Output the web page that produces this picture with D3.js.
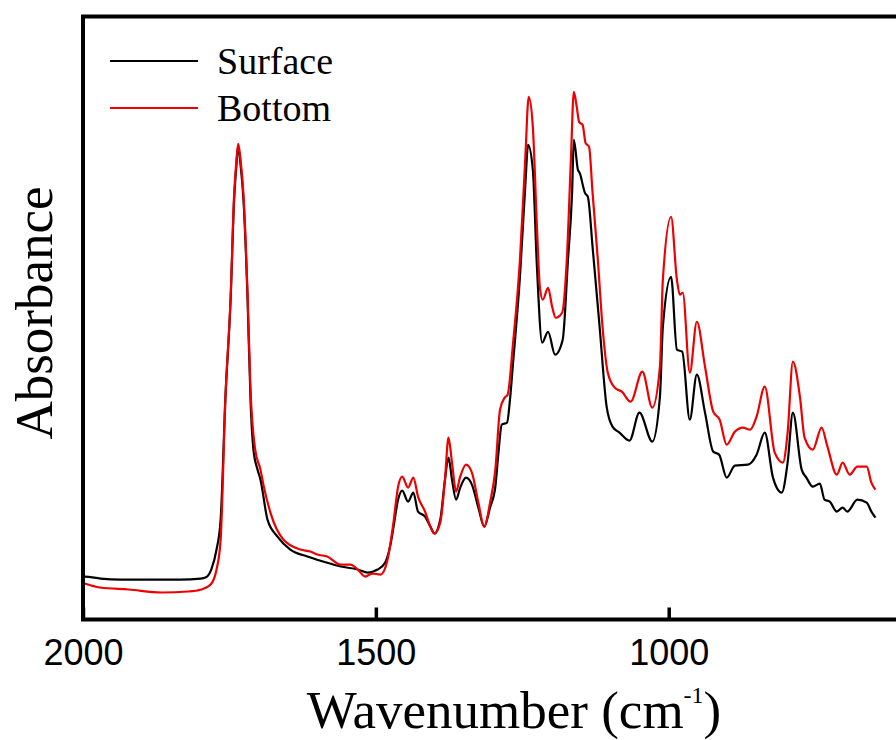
<!DOCTYPE html>
<html>
<head>
<meta charset="utf-8">
<script src="https://cdn.jsdelivr.net/npm/d3@7"></script>
<style>
    body { margin: 0; background: #fff; }
    svg { display: block; }
</style>
</head>
<body>
<div id="chart-area"></div>
<script>
// FTIR spectra, [wavenumber (cm-1), absorbance]
var surfaceSpectrum = [
    [2002, 0.042], [1997, 0.043], [1970, 0.041], [1936, 0.040], [1902, 0.040],
    [1868, 0.040], [1834, 0.040], [1799, 0.041], [1791, 0.042], [1781, 0.050],
    [1772, 0.070], [1765, 0.100], [1757, 0.220], [1748, 0.320], [1742, 0.420],
    [1738, 0.455], [1735, 0.474], [1731, 0.455], [1726, 0.420], [1719, 0.320],
    [1714, 0.220], [1709, 0.170], [1702, 0.150], [1697, 0.140], [1685, 0.100],
    [1668, 0.083], [1646, 0.070], [1617, 0.063], [1590, 0.058], [1560, 0.053],
    [1531, 0.050], [1521, 0.048], [1514, 0.047], [1497, 0.050], [1484, 0.057],
    [1475, 0.075], [1470, 0.092], [1462, 0.120], [1455, 0.129], [1445, 0.118],
    [1436, 0.127], [1428, 0.108], [1416, 0.103], [1407, 0.093], [1400, 0.086],
    [1390, 0.100], [1382, 0.140], [1376, 0.162], [1370, 0.140], [1363, 0.120],
    [1356, 0.132], [1346, 0.142], [1336, 0.135], [1325, 0.112], [1315, 0.093],
    [1305, 0.112], [1296, 0.133], [1291, 0.165], [1285, 0.195], [1276, 0.197],
    [1271, 0.220], [1266, 0.255], [1254, 0.343], [1245, 0.433], [1240, 0.475],
    [1232, 0.450], [1225, 0.353], [1216, 0.277], [1206, 0.288], [1194, 0.265],
    [1181, 0.280], [1172, 0.360], [1165, 0.427], [1162, 0.480], [1155, 0.450],
    [1152, 0.447], [1143, 0.427], [1138, 0.423], [1130, 0.373], [1118, 0.293],
    [1106, 0.213], [1096, 0.193], [1084, 0.187], [1067, 0.179], [1050, 0.207],
    [1028, 0.178], [1015, 0.223], [1010, 0.293], [996, 0.343], [986, 0.270],
    [977, 0.268], [964, 0.200], [952, 0.245], [938, 0.207], [924, 0.168],
    [914, 0.165], [901, 0.142], [887, 0.154], [865, 0.155], [850, 0.165],
    [836, 0.187], [822, 0.142], [807, 0.127], [797, 0.157], [788, 0.207],
    [773, 0.150], [765, 0.142], [754, 0.133], [742, 0.136], [734, 0.120],
    [725, 0.118], [713, 0.108], [703, 0.112], [695, 0.108], [678, 0.120],
    [662, 0.117], [654, 0.108], [647, 0.102]
];

var bottomSpectrum = [
    [2002, 0.037], [1997, 0.036], [1971, 0.032], [1922, 0.030], [1866, 0.027],
    [1820, 0.028], [1798, 0.030], [1782, 0.035], [1772, 0.050], [1765, 0.080],
    [1757, 0.220], [1748, 0.322], [1742, 0.425], [1738, 0.460], [1735, 0.476],
    [1731, 0.460], [1726, 0.425], [1719, 0.325], [1714, 0.230], [1706, 0.170],
    [1697, 0.150], [1692, 0.135], [1680, 0.107], [1658, 0.080], [1629, 0.070],
    [1612, 0.068], [1600, 0.065], [1583, 0.063], [1560, 0.055], [1543, 0.055],
    [1531, 0.050], [1518, 0.043], [1506, 0.046], [1492, 0.045], [1480, 0.060],
    [1470, 0.097], [1462, 0.133], [1455, 0.143], [1445, 0.132], [1436, 0.142],
    [1428, 0.123], [1416, 0.108], [1407, 0.093], [1400, 0.086], [1390, 0.097],
    [1382, 0.140], [1376, 0.182], [1370, 0.157], [1363, 0.128], [1356, 0.143],
    [1346, 0.155], [1336, 0.147], [1325, 0.117], [1315, 0.093], [1305, 0.117],
    [1296, 0.150], [1288, 0.210], [1280, 0.222], [1275, 0.225], [1266, 0.275],
    [1254, 0.360], [1245, 0.460], [1239, 0.523], [1232, 0.493], [1225, 0.393],
    [1220, 0.333], [1215, 0.320], [1206, 0.332], [1199, 0.313], [1193, 0.302],
    [1182, 0.307], [1174, 0.360], [1167, 0.460], [1162, 0.528], [1157, 0.513],
    [1153, 0.498], [1147, 0.495], [1142, 0.477], [1136, 0.473], [1130, 0.427],
    [1121, 0.360], [1113, 0.293], [1104, 0.247], [1092, 0.232], [1080, 0.228],
    [1065, 0.218], [1045, 0.248], [1028, 0.212], [1015, 0.253], [1010, 0.340],
    [996, 0.403], [986, 0.340], [981, 0.325], [976, 0.327], [964, 0.247],
    [952, 0.298], [938, 0.253], [924, 0.208], [913, 0.200], [901, 0.175],
    [887, 0.188], [873, 0.192], [861, 0.190], [850, 0.203], [836, 0.233],
    [819, 0.167], [805, 0.157], [797, 0.187], [788, 0.258], [776, 0.223],
    [768, 0.182], [754, 0.170], [739, 0.192], [729, 0.173], [713, 0.145],
    [703, 0.157], [691, 0.145], [678, 0.153], [662, 0.153], [654, 0.137],
    [647, 0.130]
];

var seriesNames = ["Surface", "Bottom"];
var seriesColors = ["#000000", "#ee0000"];
var xTickValues = [2000, 1500, 1000];

var chartDimensions = {
    width: 896,
    height: 740,
    left: 83,
    right: 903,
    top: 16.5,
    bottom: 619.5
};

var x = d3.scaleLinear()
    .domain([2000, 600])
    .range([chartDimensions.left, chartDimensions.right]);

var y = d3.scaleLinear()
    .domain([0, 0.6035])
    .range([chartDimensions.bottom, chartDimensions.top]);

var chart = d3.select("#chart-area")
    .append("svg")
    .attr("width", chartDimensions.width)
    .attr("height", chartDimensions.height);

var line = d3.line()
    .x(function (d) { return x(d[0]); })
    .y(function (d) { return y(d[1]); })
    .curve(d3.curveMonotoneX);

// Surface first so the red trace lies on top
[surfaceSpectrum, bottomSpectrum].forEach(function (spectrum, i) {
    chart.append("path")
        .datum(spectrum)
        .attr("d", line)
        .attr("fill", "none")
        .attr("stroke", seriesColors[i])
        .attr("stroke-width", 2.2)
        .attr("stroke-linejoin", "round");
});

// Frame (right side runs off the canvas)
chart.append("rect")
    .attr("x", x(2000))
    .attr("y", y(0.6035))
    .attr("width", x(600) - x(2000))
    .attr("height", y(0) - y(0.6035))
    .attr("fill", "none")
    .attr("stroke", "black")
    .attr("stroke-width", 4);

// Bottom axis: inward ticks, labels below
var xAxis = d3.axisBottom(x)
    .tickValues(xTickValues)
    .tickSize(-12)
    .tickPadding(20)
    .tickFormat(d3.format("d"));

var axisGroup = chart.append("g")
    .attr("transform", "translate(0," + y(0) + ")")
    .call(xAxis);
axisGroup.select(".domain").remove();
axisGroup.selectAll(".tick line")
    .attr("stroke", "black")
    .attr("stroke-width", 3.5);
axisGroup.selectAll(".tick text")
    .attr("fill", "black")
    .attr("font-family", "'Liberation Sans', Arial, sans-serif")
    .attr("font-size", 36);

// Axis titles
var xTitle = chart.append("text")
    .attr("x", 514)
    .attr("y", 728)
    .attr("text-anchor", "middle")
    .attr("font-family", "'Liberation Serif', 'Times New Roman', serif")
    .attr("font-size", 53)
    .attr("fill", "black");
xTitle.append("tspan").text("Wavenumber (cm");
xTitle.append("tspan")
    .attr("font-size", 24)
    .attr("dy", -25)
    .text("-1");
xTitle.append("tspan")
    .attr("dy", 25)
    .text(")");

chart.append("text")
    .attr("transform", "translate(52,313) rotate(-90)")
    .attr("text-anchor", "middle")
    .attr("font-family", "'Liberation Serif', 'Times New Roman', serif")
    .attr("font-size", 53)
    .attr("fill", "black")
    .text("Absorbance");

// Legend
var legend = chart.append("g")
    .attr("transform", "translate(110,61)");
seriesNames.forEach(function (name, i) {
    var row = legend.append("g")
        .attr("transform", "translate(0," + (i * 47) + ")");
    row.append("line")
        .attr("x1", 0)
        .attr("x2", 88)
        .attr("stroke", seriesColors[i])
        .attr("stroke-width", 2.2);
    row.append("text")
        .attr("x", 107)
        .attr("y", 13)
        .attr("font-family", "'Liberation Serif', 'Times New Roman', serif")
        .attr("font-size", 38)
        .attr("fill", "black")
        .text(name);
});
</script>
</body>
</html>
